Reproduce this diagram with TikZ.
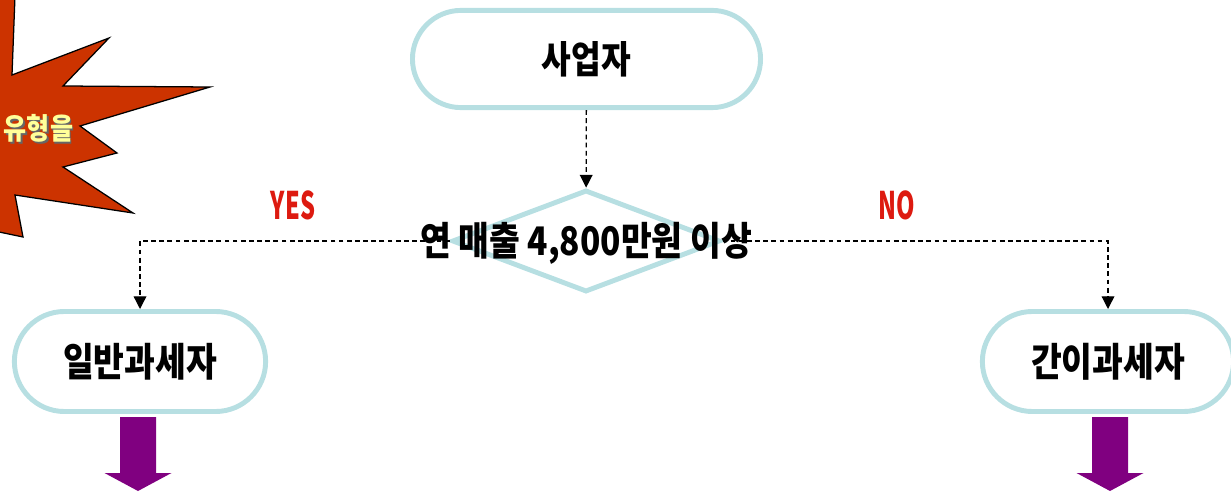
\documentclass[tikz,border=0pt]{standalone}
\usepackage{fontspec}
\setmainfont{Noto Sans CJK KR}
\newfontfamily\hd{Noto Sans CJK KR}[FakeStretch=0.85]
\newfontfamily\hdn{Noto Sans CJK KR}[FakeStretch=0.62]
\usetikzlibrary{arrows.meta,shapes.geometric,shapes.misc}
\definecolor{boxline}{RGB}{183,223,226}
\definecolor{burstfill}{RGB}{204,51,0}
\definecolor{burstword}{RGB}{255,255,153}
\definecolor{answerred}{RGB}{221,26,16}
\definecolor{arrowpurple}{RGB}{128,0,128}
\tikzset{
	terminal/.style={rounded rectangle, draw=boxline, line width=3.5pt, fill=white, inner sep=0pt, font=\hd\bfseries\fontsize{28}{28}\selectfont},
	decision/.style={diamond, draw=boxline, line width=3.5pt, inner sep=0pt},
	flowline/.style={dash pattern=on 3.4pt off 2.4pt, line width=0.9pt, -{Triangle[width=9pt,length=9pt]}},
	answer/.style={text=answerred, font=\hdn\bfseries\fontsize{27}{27}\selectfont},
}
\def\bigdown(#1,#2){\fill[arrowpurple] (#1-18, #2) -- (#1+18, #2) -- (#1+18, #2+56) -- (#1+33.5, #2+56) -- (#1, #2+74) -- (#1-33.5, #2+56) -- (#1-18, #2+56) -- cycle;}

\begin{document}
\begin{tikzpicture}[x=0.025cm, y=-0.025cm]
			%%%%% START %%%%%
			\useasboundingbox (0, 0) rectangle (1231, 492);
			\clip (0, 0) rectangle (1231, 492);
			
			% explosion sign, cut by the left edge
			\draw[fill=burstfill, line width=0.9pt, line join=miter] (16, -30) -- (12, 75) -- (109, 38) -- (63, 86) -- (210, 87) -- (80, 126) -- (117, 153) -- (63, 167) -- (133, 213) -- (15, 195) -- (23, 237) -- (-20, 228) -- (-20, -30) -- cycle;
			\node[inner sep=0pt, text=black!60, font=\hd\bfseries\fontsize{21}{21}\selectfont] at (40, 130) {유형을};
			\node[inner sep=0pt, text=burstword, font=\hd\bfseries\fontsize{21}{21}\selectfont] (bursttxt) at (38.5, 128) {유형을};
			
			\node[terminal, minimum width=8.7cm, minimum height=2.43cm, font=\hd\bfseries\fontsize{27}{27}\selectfont] (owner) at (586.5, 59) {사업자};
			\node[decision, minimum width=6.7cm, minimum height=2.55cm] (sales) at (586, 241) {};
			
			\node[terminal, minimum width=6.28cm, minimum height=2.5cm] (general) at (140, 361.5) {일반과세자};
			\node[terminal, minimum width=6.28cm, minimum height=2.5cm] (simple) at (1108, 361.5) {간이과세자};
			
			\draw[flowline] (owner) -- (sales);
			\draw[flowline] (sales.west) -| (general);
			\draw[flowline] (sales.east) -| (simple);
			
			\node[font=\hd\bfseries\fontsize{28}{28}\selectfont] (salestxt) at (586, 243) {연 매출 4,800만원 이상};
			
			\node[answer] (yes) at (293, 205) {YES};
			\node[answer] (no) at (897, 205) {NO};
			
			\bigdown(138, 417)
			\bigdown(1110, 417)
			%%%%% END %%%%%
\end{tikzpicture}
\end{document}
